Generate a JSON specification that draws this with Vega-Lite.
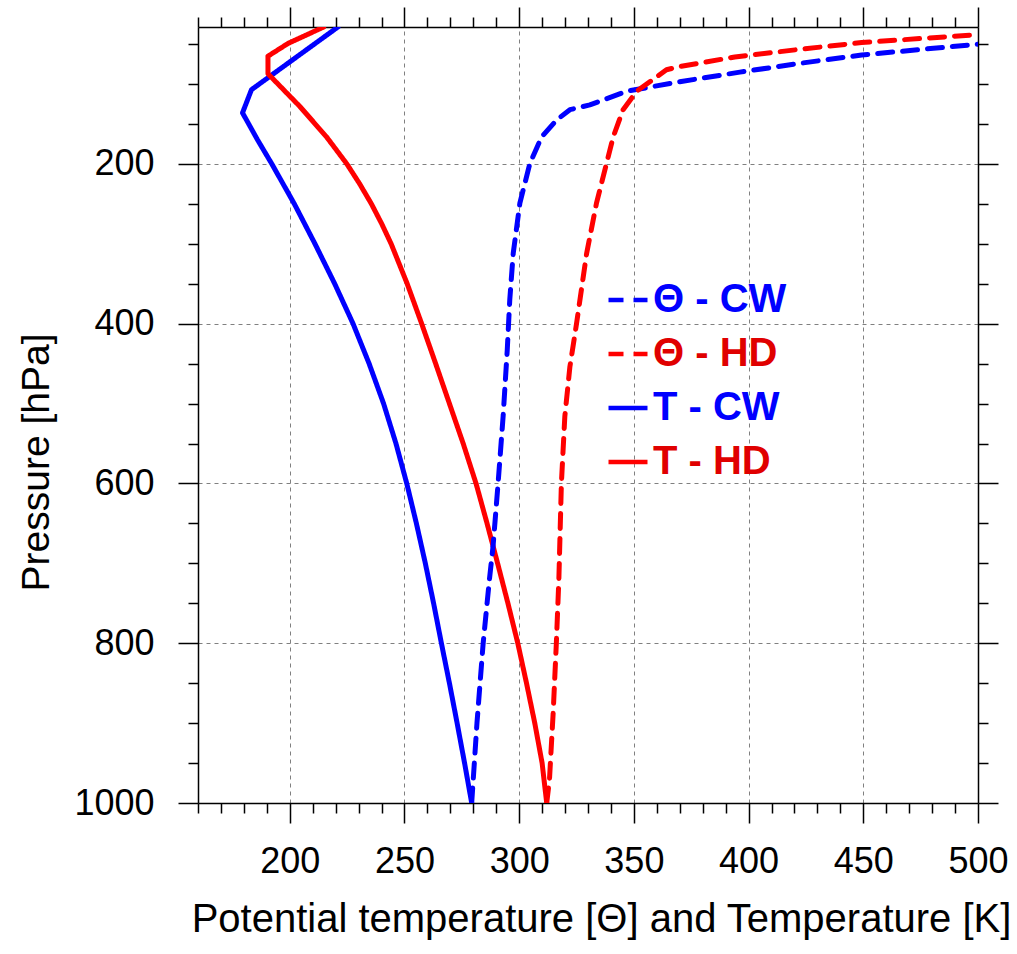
{
  "$schema": "https://vega.github.io/schema/vega-lite/v6.json",
  "width": 780,
  "height": 776,
  "autosize": {"type": "none"},
  "padding": {"left": 198, "top": 27, "right": 39, "bottom": 151},
  "background": "white",
  "config": {"view": {"stroke": null}, "font": "Liberation Sans"},
  "data": {"values": [
    {"series": "T - CW", "i": 0, "p": 28.5, "T": 221.0},
    {"series": "T - CW", "i": 1, "p": 107, "T": 183.3},
    {"series": "T - CW", "i": 2, "p": 136, "T": 179.4},
    {"series": "T - CW", "i": 3, "p": 170, "T": 186.0},
    {"series": "T - CW", "i": 4, "p": 200, "T": 192.2},
    {"series": "T - CW", "i": 5, "p": 250, "T": 202.0},
    {"series": "T - CW", "i": 6, "p": 300, "T": 211.0},
    {"series": "T - CW", "i": 7, "p": 350, "T": 219.6},
    {"series": "T - CW", "i": 8, "p": 400, "T": 227.6},
    {"series": "T - CW", "i": 9, "p": 450, "T": 234.6},
    {"series": "T - CW", "i": 10, "p": 500, "T": 240.9},
    {"series": "T - CW", "i": 11, "p": 550, "T": 246.3},
    {"series": "T - CW", "i": 12, "p": 600, "T": 251.0},
    {"series": "T - CW", "i": 13, "p": 650, "T": 255.2},
    {"series": "T - CW", "i": 14, "p": 700, "T": 259.1},
    {"series": "T - CW", "i": 15, "p": 750, "T": 262.7},
    {"series": "T - CW", "i": 16, "p": 800, "T": 266.1},
    {"series": "T - CW", "i": 17, "p": 850, "T": 269.6},
    {"series": "T - CW", "i": 18, "p": 900, "T": 272.95},
    {"series": "T - CW", "i": 19, "p": 950, "T": 276.2},
    {"series": "T - CW", "i": 20, "p": 1000, "T": 279.3},

    {"series": "T - HD", "i": 0, "p": 28.5, "T": 214.8},
    {"series": "T - HD", "i": 1, "p": 49, "T": 199.3},
    {"series": "T - HD", "i": 2, "p": 65, "T": 190.5},
    {"series": "T - HD", "i": 3, "p": 87, "T": 190.5},
    {"series": "T - HD", "i": 4, "p": 128, "T": 204.4},
    {"series": "T - HD", "i": 5, "p": 166, "T": 216.0},
    {"series": "T - HD", "i": 6, "p": 200, "T": 224.9},
    {"series": "T - HD", "i": 7, "p": 225, "T": 230.5},
    {"series": "T - HD", "i": 8, "p": 250, "T": 235.6},
    {"series": "T - HD", "i": 9, "p": 275, "T": 240.1},
    {"series": "T - HD", "i": 10, "p": 300, "T": 244.2},
    {"series": "T - HD", "i": 11, "p": 350, "T": 251.2},
    {"series": "T - HD", "i": 12, "p": 400, "T": 257.5},
    {"series": "T - HD", "i": 13, "p": 450, "T": 263.6},
    {"series": "T - HD", "i": 14, "p": 500, "T": 269.6},
    {"series": "T - HD", "i": 15, "p": 550, "T": 275.6},
    {"series": "T - HD", "i": 16, "p": 600, "T": 281.2},
    {"series": "T - HD", "i": 17, "p": 650, "T": 286.0},
    {"series": "T - HD", "i": 18, "p": 700, "T": 290.6},
    {"series": "T - HD", "i": 19, "p": 750, "T": 295.1},
    {"series": "T - HD", "i": 20, "p": 800, "T": 299.4},
    {"series": "T - HD", "i": 21, "p": 850, "T": 303.2},
    {"series": "T - HD", "i": 22, "p": 900, "T": 306.8},
    {"series": "T - HD", "i": 23, "p": 950, "T": 310.0},
    {"series": "T - HD", "i": 24, "p": 1000, "T": 312.0},

    {"series": "Θ - CW", "i": 0, "p": 1000, "T": 279.3},
    {"series": "Θ - CW", "i": 1, "p": 900, "T": 281.6},
    {"series": "Θ - CW", "i": 2, "p": 800, "T": 284.3},
    {"series": "Θ - CW", "i": 3, "p": 721, "T": 287.0},
    {"series": "Θ - CW", "i": 4, "p": 679, "T": 288.6},
    {"series": "Θ - CW", "i": 5, "p": 600, "T": 290.8},
    {"series": "Θ - CW", "i": 6, "p": 516, "T": 293.0},
    {"series": "Θ - CW", "i": 7, "p": 433, "T": 294.8},
    {"series": "Θ - CW", "i": 8, "p": 370, "T": 295.9},
    {"series": "Θ - CW", "i": 9, "p": 312, "T": 297.4},
    {"series": "Θ - CW", "i": 10, "p": 249, "T": 300.3},
    {"series": "Θ - CW", "i": 11, "p": 199, "T": 304.7},
    {"series": "Θ - CW", "i": 12, "p": 166, "T": 309.8},
    {"series": "Θ - CW", "i": 13, "p": 145, "T": 316.3},
    {"series": "Θ - CW", "i": 14, "p": 132, "T": 322.1},
    {"series": "Θ - CW", "i": 15, "p": 126, "T": 330.8},
    {"series": "Θ - CW", "i": 16, "p": 109, "T": 346.8},
    {"series": "Θ - CW", "i": 17, "p": 97, "T": 370.0},
    {"series": "Θ - CW", "i": 18, "p": 85, "T": 396.2},
    {"series": "Θ - CW", "i": 19, "p": 74, "T": 422.4},
    {"series": "Θ - CW", "i": 20, "p": 63.5, "T": 449.3},
    {"series": "Θ - CW", "i": 21, "p": 50, "T": 500},

    {"series": "Θ - HD", "i": 0, "p": 1000, "T": 312.0},
    {"series": "Θ - HD", "i": 1, "p": 971, "T": 313.2},
    {"series": "Θ - HD", "i": 2, "p": 888, "T": 314.8},
    {"series": "Θ - HD", "i": 3, "p": 800, "T": 316.2},
    {"series": "Θ - HD", "i": 4, "p": 720, "T": 317.3},
    {"series": "Θ - HD", "i": 5, "p": 600, "T": 318.4},
    {"series": "Θ - HD", "i": 6, "p": 516, "T": 319.9},
    {"series": "Θ - HD", "i": 7, "p": 454, "T": 322.1},
    {"series": "Θ - HD", "i": 8, "p": 400, "T": 325.0},
    {"series": "Θ - HD", "i": 9, "p": 312, "T": 329.4},
    {"series": "Θ - HD", "i": 10, "p": 249, "T": 333.7},
    {"series": "Θ - HD", "i": 11, "p": 199, "T": 338.1},
    {"series": "Θ - HD", "i": 12, "p": 166, "T": 341.0},
    {"series": "Θ - HD", "i": 13, "p": 132, "T": 345.3},
    {"series": "Θ - HD", "i": 14, "p": 109, "T": 351.2},
    {"series": "Θ - HD", "i": 15, "p": 91, "T": 359.9},
    {"series": "Θ - HD", "i": 16, "p": 82, "T": 364.2},
    {"series": "Θ - HD", "i": 17, "p": 78, "T": 370.0},
    {"series": "Θ - HD", "i": 18, "p": 66, "T": 394.0},
    {"series": "Θ - HD", "i": 19, "p": 56.4, "T": 422.4},
    {"series": "Θ - HD", "i": 20, "p": 48, "T": 449.3},
    {"series": "Θ - HD", "i": 21, "p": 38, "T": 500}
  ]},
  "layer": [
    {
      "mark": {"type": "line", "strokeWidth": 5, "strokeJoin": "round", "strokeCap": "round", "clip": true},
      "encoding": {
        "x": {
          "field": "T", "type": "quantitative",
          "scale": {"domain": [160, 500], "nice": false, "zero": false},
          "axis": {
            "orient": "bottom",
            "values": [160,170,180,190,200,210,220,230,240,250,260,270,280,290,300,310,320,330,340,350,360,370,380,390,400,410,420,430,440,450,460,470,480,490,500],
            "labelExpr": "datum.value % 50 === 0 ? datum.label : ''",
            "format": "d",
            "tickSize": {"condition": {"test": "datum.value % 50 === 0", "value": 20}, "value": 10},
            "tickColor": "black", "tickWidth": 1.5,
            "domainColor": "black", "domainWidth": 1.5,
            "grid": true, "gridColor": "#808080", "gridDash": [4, 4], "gridWidth": 1,
            "gridOpacity": {"condition": {"test": "datum.value % 50 === 0 && datum.value < 500", "value": 1}, "value": 0},
            "labelFontSize": 36, "labelColor": "black", "labelPadding": 21,
            "labelFlush": false, "labelOverlap": false,
            "title": "Potential temperature [Θ] and Temperature [K]",
            "titleFontSize": 40, "titleFontWeight": "normal", "titleColor": "black",
            "titleX": 403, "titleY": 128, "titleAlign": "center", "titleBaseline": "alphabetic", "titleAngle": 0
          }
        },
        "y": {
          "field": "p", "type": "quantitative",
          "scale": {"domain": [28.5, 1000], "reverse": true, "nice": false, "zero": false},
          "axis": {
            "orient": "left",
            "values": [50,100,150,200,250,300,350,400,450,500,550,600,650,700,750,800,850,900,950,1000],
            "labelExpr": "datum.value % 200 === 0 ? datum.label : ''",
            "format": "d",
            "tickSize": {"condition": {"test": "datum.value % 200 === 0", "value": 20}, "value": 10},
            "tickColor": "black", "tickWidth": 1.5,
            "domainColor": "black", "domainWidth": 1.5,
            "grid": true, "gridColor": "#808080", "gridDash": [4, 4], "gridWidth": 1,
            "gridOpacity": {"condition": {"test": "datum.value % 200 === 0 && datum.value < 1000", "value": 1}, "value": 0},
            "labelFontSize": 36, "labelColor": "black", "labelPadding": 24,
            "labelFlush": false, "labelOverlap": false,
            "title": "Pressure [hPa]",
            "titleFontSize": 39, "titleFontWeight": "normal", "titleColor": "black",
            "titleX": -150, "titleY": 435, "titleAlign": "center", "titleBaseline": "alphabetic", "titleAngle": 270
          }
        },
        "color": {
          "field": "series", "type": "nominal",
          "scale": {"domain": ["Θ - CW", "Θ - HD", "T - CW", "T - HD"], "range": ["#0000ff", "#ff0000", "#0000ff", "#ff0000"]},
          "legend": {
            "orient": "none", "legendX": 408, "legendY": 251, "title": null,
            "symbolType": "stroke", "symbolSize": 1521, "symbolStrokeWidth": 4.5,
            "labelFontSize": 40, "labelFontWeight": "bold", "labelFont": "Liberation Sans",
            "labelOffset": 3, "rowPadding": 12, "labelLimit": 400, "padding": 0,
            "encode": {"labels": {"update": {"fill": {"signal": "indexof(datum.label, 'CW') >= 0 ? '#0000ff' : '#e00000'"}}}}
          }
        },
        "strokeDash": {
          "field": "series", "type": "nominal",
          "scale": {"domain": ["Θ - CW", "Θ - HD", "T - CW", "T - HD"], "range": [[15, 10], [15, 10], [1, 0], [1, 0]]},
          "legend": {
            "orient": "none", "legendX": 408, "legendY": 251, "title": null,
            "symbolType": "stroke", "symbolSize": 1521, "symbolStrokeWidth": 4.5,
            "labelFontSize": 40, "labelFontWeight": "bold", "labelFont": "Liberation Sans",
            "labelOffset": 3, "rowPadding": 12, "labelLimit": 400, "padding": 0,
            "encode": {"labels": {"update": {"fill": {"signal": "indexof(datum.label, 'CW') >= 0 ? '#0000ff' : '#e00000'"}}}}
          }
        },
        "order": {"field": "i", "type": "quantitative"}
      }
    },
    {
      "mark": {"type": "point", "opacity": 0},
      "encoding": {
        "x": {
          "field": "T", "type": "quantitative",
          "axis": {
            "orient": "top",
            "values": [160,170,180,190,200,210,220,230,240,250,260,270,280,290,300,310,320,330,340,350,360,370,380,390,400,410,420,430,440,450,460,470,480,490,500],
            "labels": false, "title": null, "grid": false,
            "tickSize": {"condition": {"test": "datum.value % 50 === 0", "value": 20}, "value": 10},
            "tickColor": "black", "tickWidth": 1.5,
            "domainColor": "black", "domainWidth": 1.5
          }
        },
        "y": {
          "field": "p", "type": "quantitative",
          "axis": {
            "orient": "right",
            "values": [50,100,150,200,250,300,350,400,450,500,550,600,650,700,750,800,850,900,950,1000],
            "labels": false, "title": null, "grid": false,
            "tickSize": {"condition": {"test": "datum.value % 200 === 0", "value": 20}, "value": 10},
            "tickColor": "black", "tickWidth": 1.5,
            "domainColor": "black", "domainWidth": 1.5
          }
        }
      }
    }
  ],
  "resolve": {"axis": {"x": "independent", "y": "independent"}}
}
